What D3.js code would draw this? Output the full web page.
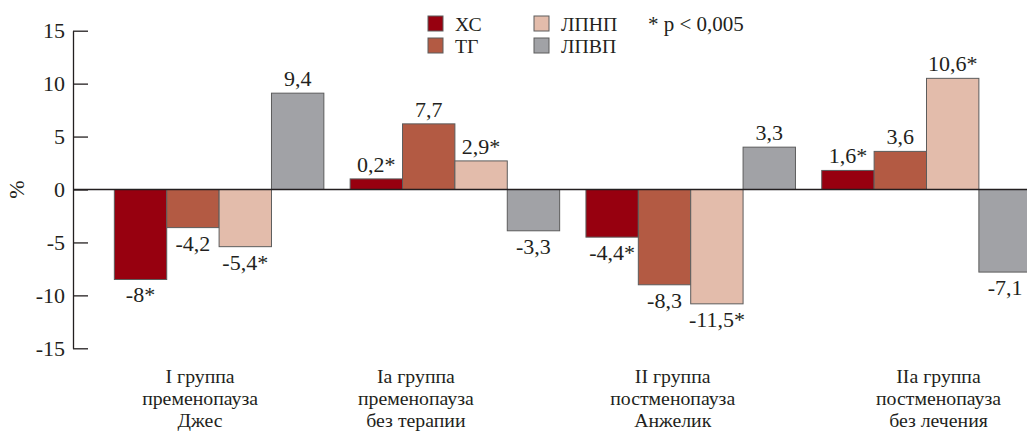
<!DOCTYPE html>
<html>
<head>
<meta charset="utf-8">
<script src="https://cdn.jsdelivr.net/npm/d3@7"></script>
<style>
  body { margin: 0; background: #fff; }
  svg text { font-family: "Liberation Serif", "DejaVu Serif", serif; fill: #231f20; }
</style>
</head>
<body>
<svg width="1027" height="434"></svg>
<script>
// groups and series
let groups = ["I", "Ia", "II", "IIa"];
let groupLines = [
  ["I группа", "пременопауза", "Джес"],
  ["Ia группа", "пременопауза", "без терапии"],
  ["II группа", "постменопауза", "Анжелик"],
  ["IIa группа", "постменопауза", "без лечения"]
];
let series = ["ХС", "ТГ", "ЛПНП", "ЛПВП"];
let seriesColors = ["#97000f", "#b35a43", "#e3bcab", "#a1a2a6"];
let significant = [true, false, true, false];

// bar heights as drawn in the picture
let barXC   = [-8.5, 1.0, -4.5, 1.8];
let barTG   = [-3.6, 6.2, -9.0, 3.6];
let barLDL  = [-5.4, 2.7, -10.8, 10.5];
let barHDL  = [9.1, -3.9, 4.0, -7.8];

// printed values
let printedXC  = [-8, 0.2, -4.4, 1.6];
let printedTG  = [-4.2, 7.7, -8.3, 3.6];
let printedLDL = [-5.4, 2.9, -11.5, 10.6];
let printedHDL = [9.4, -3.3, 3.3, -7.1];

let yTicks = [15, 10, 5, 0, -5, -10, -15];

let bars = [barXC, barTG, barLDL, barHDL];
let printed = [printedXC, printedTG, printedLDL, printedHDL];

let svg = d3.select("svg");

let yScale = d3.scaleLinear().domain([-15, 15]).range([348.3, 30.7]);

let x0 = d3.scaleBand()
  .domain(groups)
  .range([101.2, 1044.4])
  .paddingInner(0.1115)
  .paddingOuter(0.05575);

let x1 = d3.scaleBand()
  .domain(series)
  .range([0, x0.bandwidth()]);

let axisX = 73;

// y axis
let yAxis = d3.axisLeft(yScale)
  .tickValues(yTicks)
  .tickSize(-15)
  .tickSizeOuter(0)
  .tickPadding(8)
  .tickFormat(d => String(d));

let yg = svg.append("g")
  .attr("transform", `translate(${axisX},0)`)
  .call(yAxis);
yg.select(".domain").attr("stroke", "#231f20").attr("stroke-width", 1.3);
yg.selectAll(".tick line").attr("stroke", "#231f20").attr("stroke-width", 1.3);
yg.selectAll(".tick text")
  .style("font-size", "22px")
  .attr("fill", "#231f20");

svg.append("text")
  .attr("transform", `translate(24, ${yScale(0)}) rotate(-90)`)
  .attr("text-anchor", "middle")
  .style("font-size", "22px")
  .text("%");

// bars
let rows = [];
groups.forEach((g, gi) => {
  series.forEach((s, si) => {
    rows.push({group: g, gi: gi, series: s, si: si, v: bars[si][gi], p: printed[si][gi]});
  });
});

svg.selectAll(".bar")
  .data(rows)
  .enter().append("rect")
  .attr("class", "bar")
  .attr("x", d => x0(d.group) + x1(d.series))
  .attr("y", d => yScale(Math.max(0, d.v)))
  .attr("width", x1.bandwidth())
  .attr("height", d => Math.abs(yScale(d.v) - yScale(0)))
  .style("fill", d => seriesColors[d.si])
  .style("stroke", "#5c5c5c")
  .style("stroke-width", 1);

// zero line
svg.append("line")
  .attr("x1", axisX).attr("x2", 1027)
  .attr("y1", yScale(0)).attr("y2", yScale(0))
  .attr("stroke", "#231f20")
  .attr("stroke-width", 1.5);

// value labels
svg.selectAll(".val")
  .data(rows)
  .enter().append("text")
  .attr("class", "val")
  .attr("x", d => x0(d.group) + x1(d.series) + x1.bandwidth() / 2)
  .attr("y", d => d.v >= 0 ? yScale(d.v) - 7 : yScale(d.v) + 23)
  .attr("text-anchor", "middle")
  .style("font-size", "22px")
  .text(d => String(d.p).replace(".", ",") + (significant[d.si] ? "*" : ""));

// group labels (nudged like in the original)
let labelNudge = [-19, -39, -18, 12];
let gl = svg.selectAll(".glabel")
  .data(groups)
  .enter().append("text")
  .attr("class", "glabel")
  .attr("text-anchor", "middle")
  .attr("x", (d, i) => x0(d) + x0.bandwidth() / 2 + labelNudge[i])
  .attr("y", 383)
  .style("font-size", "19.8px");
gl.selectAll("tspan")
  .data((d, i) => groupLines[i])
  .enter().append("tspan")
  .attr("x", function() { return d3.select(this.parentNode).attr("x"); })
  .attr("dy", (d, i) => i === 0 ? 0 : 22)
  .text(d => d);

// legend
let legend = svg.append("g");
let legendPos = [[428, 16], [428, 38], [534, 16], [534, 38]];
series.forEach((s, i) => {
  let lg = legend.append("g").attr("transform", `translate(${legendPos[i][0]},${legendPos[i][1]})`);
  lg.append("rect")
    .attr("width", 15).attr("height", 15)
    .style("fill", seriesColors[i])
    .style("stroke", "#5c5c5c")
    .style("stroke-width", 1);
  lg.append("text")
    .attr("x", 27).attr("y", 15)
    .style("font-size", "19.8px")
    .text(s);
});
legend.append("text")
  .attr("x", 648).attr("y", 31)
  .style("font-size", "21px")
  .text("* p < 0,005");
</script>
</body>
</html>
